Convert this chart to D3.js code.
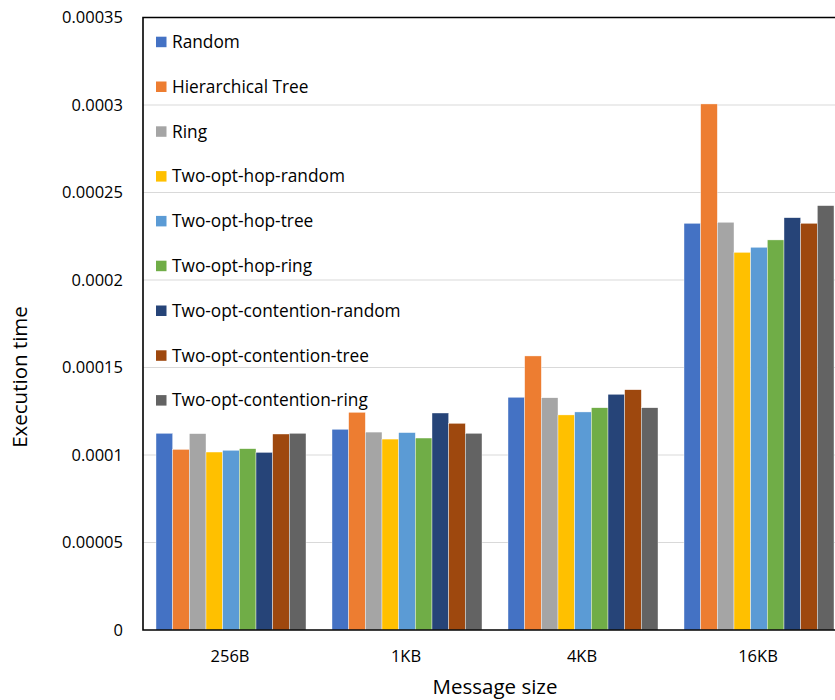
<!DOCTYPE html>
<html>
<head>
<meta charset="utf-8">
<script src="https://cdn.jsdelivr.net/npm/d3@7"></script>
<style>
  body { margin: 0; background: #fff; }
  text { font-family: "Open Sans", sans-serif; fill: #000; }
</style>
</head>
<body>
<svg id="chart" width="835" height="700"></svg>
<script>
const categories = ["256B", "1KB", "4KB", "16KB"];
const seriesNames = [
  "Random", "Hierarchical Tree", "Ring",
  "Two-opt-hop-random", "Two-opt-hop-tree", "Two-opt-hop-ring",
  "Two-opt-contention-random", "Two-opt-contention-tree", "Two-opt-contention-ring"
];
const colors = ["#4472C4", "#ED7D31", "#A5A5A5", "#FFC000", "#5B9BD5", "#70AD47", "#264478", "#9E480E", "#636363"];

// one array per series, values for 256B, 1KB, 4KB, 16KB
const random      = [0.0001124, 0.0001147, 0.0001330, 0.0002324];
const hierTree    = [0.0001032, 0.0001244, 0.0001566, 0.0003006];
const ring        = [0.0001122, 0.0001131, 0.0001327, 0.0002330];
const hopRandom   = [0.0001017, 0.0001091, 0.0001229, 0.0002158];
const hopTree     = [0.0001027, 0.0001128, 0.0001246, 0.0002187];
const hopRing     = [0.0001036, 0.0001097, 0.0001270, 0.0002229];
const contRandom  = [0.0001015, 0.0001240, 0.0001347, 0.0002356];
const contTree    = [0.0001120, 0.0001181, 0.0001373, 0.0002324];
const contRing    = [0.0001124, 0.0001124, 0.0001270, 0.0002425];
const series = [random, hierTree, ring, hopRandom, hopTree, hopRing, contRandom, contTree, contRing];

const yTicks = [0, 0.00005, 0.0001, 0.00015, 0.0002, 0.00025, 0.0003, 0.00035];
const yTickLabels = ["0", "0.00005", "0.0001", "0.00015", "0.0002", "0.00025", "0.0003", "0.00035"];

const margin = { left: 143, top: 17.5, bottom: 630 };
const svg = d3.select("#chart");

const x0 = d3.scaleBand().domain(categories).range([margin.left, margin.left + 4 * 176]).padding(0);
const x1 = d3.scaleBand().domain(seriesNames).range([13, 163]).padding(0);
const y = d3.scaleLinear().domain([0, 0.00035]).range([margin.bottom, margin.top]);

// gridlines
svg.append("g").selectAll("line").data(yTicks.slice(1, -1)).join("line")
  .attr("x1", margin.left).attr("x2", 835)
  .attr("y1", d => y(d)).attr("y2", d => y(d))
  .attr("stroke", "#d9d9d9").attr("stroke-width", 1.2);

// bars
const groups = svg.append("g").selectAll("g").data(categories).join("g")
  .attr("transform", d => `translate(${x0(d)},0)`);
groups.selectAll("rect")
  .data((c, ci) => seriesNames.map((s, si) => ({ s, si, v: series[si][ci] })))
  .join("rect")
  .attr("x", d => x1(d.s))
  .attr("width", x1.bandwidth())
  .attr("y", d => y(d.v))
  .attr("height", d => y(0) - y(d.v))
  .attr("fill", d => colors[d.si])
  .attr("stroke", "#fff").attr("stroke-width", 0.4);

// frame: left, top, bottom
svg.append("path")
  .attr("d", `M835,${margin.top}H${margin.left}V${margin.bottom}H835`)
  .attr("fill", "none").attr("stroke", "#000").attr("stroke-width", 1.6);

// y tick labels
svg.append("g").selectAll("text").data(yTicks).join("text")
  .attr("x", 123).attr("y", d => y(d)).attr("dy", "0.35em")
  .attr("text-anchor", "end").style("font-size", "16.5px")
  .text((d, i) => yTickLabels[i]);

// x category labels
svg.append("g").selectAll("text").data(categories).join("text")
  .attr("x", d => x0(d) + x0.bandwidth() / 2 - 1).attr("y", 662)
  .attr("text-anchor", "middle").style("font-size", "16.5px")
  .text(d => d);

// axis titles
svg.append("text").attr("x", 495).attr("y", 694)
  .attr("text-anchor", "middle").style("font-size", "20.5px").text("Message size");
svg.append("text").attr("transform", "translate(27,377) rotate(-90)")
  .attr("text-anchor", "middle").style("font-size", "20.5px").text("Execution time");

// legend
const legend = svg.append("g").selectAll("g").data(seriesNames).join("g")
  .attr("transform", (d, i) => `translate(156,${42 + i * 44.8})`);
legend.append("rect").attr("x", 0).attr("y", -5.3).attr("width", 10.5).attr("height", 10.5)
  .attr("fill", (d, i) => colors[i]);
legend.append("text").attr("x", 16).attr("dy", "0.35em")
  .style("font-size", "17.3px").text(d => d);
</script>
</body>
</html>
